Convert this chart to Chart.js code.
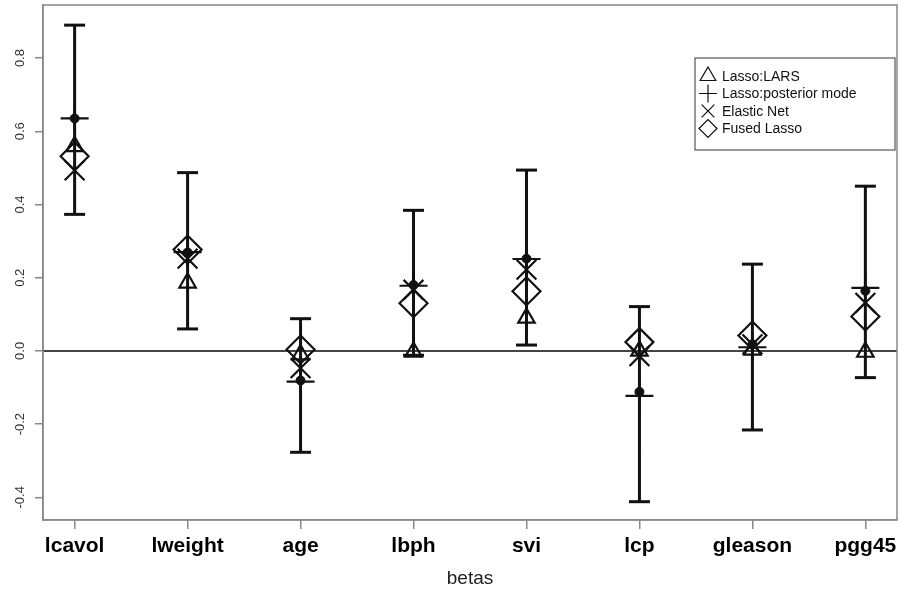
<!DOCTYPE html>
<html>
<head>
<meta charset="utf-8">
<script src="https://cdn.jsdelivr.net/npm/chart.js@4.4.1/dist/chart.umd.min.js"></script>
<style>
  body { margin: 0; background: #fff; }
</style>
</head>
<body>
<canvas id="betas-chart" width="899" height="592"></canvas>
<script>
// coefficients on the x axis
const categories = ['lcavol', 'lweight', 'age', 'lbph', 'svi', 'lcp', 'gleason', 'pgg45'];
// Bayesian lasso interval ends
const upper = [0.890, 0.487, 0.088, 0.384, 0.494, 0.121, 0.237, 0.450];
const lower = [0.373, 0.060, -0.277, -0.012, 0.016, -0.412, -0.216, -0.073];
// filled dot (posterior median)
const postMedian = [0.635, 0.269, -0.081, 0.180, 0.252, -0.112, 0.018, 0.164];
// point estimates of the other methods
const lassoLars = [0.559, 0.186, -0.010, -0.003, 0.090, 0.000, 0.003, -0.003];
const postMode = [0.635, 0.270, -0.084, 0.178, 0.251, -0.123, 0.010, 0.172];
const elasticNet = [0.493, 0.252, -0.047, 0.167, 0.222, -0.014, 0.018, 0.131];
const fusedLasso = [0.532, 0.277, 0.004, 0.130, 0.163, 0.024, 0.042, 0.094];
const yTicks = [-0.4, -0.2, 0, 0.2, 0.4, 0.6, 0.8];

const FONT = '"Liberation Sans", Arial, sans-serif';
const INK = '#111';

const toPoints = arr => arr.map((v, i) => ({ x: i + 1, y: v }));

// error bars: one dataset, broken by null points, caps drawn as 'line' points
const barData = categories.flatMap((c, i) => [
  { x: i + 1, y: lower[i] },
  { x: i + 1, y: upper[i] },
  { x: i + 1, y: null }
]);

const legendItems = [
  { text: 'Lasso:LARS', style: 'triangle' },
  { text: 'Lasso:posterior mode', style: 'cross' },
  { text: 'Elastic Net', style: 'crossRot' },
  { text: 'Fused Lasso', style: 'rectRot' }
];

// box around the plot and the zero line
const framePlugin = {
  id: 'frame',
  beforeDatasetsDraw(chart) {
    const { ctx, chartArea: a, scales } = chart;
    ctx.save();
    ctx.strokeStyle = '#444';
    ctx.lineWidth = 2;
    const y0 = scales.y.getPixelForValue(0);
    ctx.beginPath();
    ctx.moveTo(a.left, y0);
    ctx.lineTo(a.right, y0);
    ctx.stroke();
    ctx.strokeStyle = '#888';
    ctx.lineWidth = 1.5;
    ctx.strokeRect(a.left, a.top, a.right - a.left, a.bottom - a.top);
    ctx.restore();
  }
};

// R style legend box
const boxLegendPlugin = {
  id: 'boxLegend',
  afterDraw(chart) {
    const { ctx } = chart;
    const left = 695, top = 58, w = 200, h = 92;
    ctx.save();
    ctx.fillStyle = '#fff';
    ctx.fillRect(left, top, w, h);
    ctx.strokeStyle = '#555';
    ctx.lineWidth = 1.2;
    ctx.strokeRect(left, top, w, h);
    ctx.font = '14px ' + FONT;
    ctx.textBaseline = 'middle';
    legendItems.forEach((item, i) => {
      const y = top + 18 + i * 17.5;
      ctx.strokeStyle = INK;
      ctx.fillStyle = 'rgba(0,0,0,0)';
      Chart.helpers.drawPoint(ctx, { pointStyle: item.style, radius: 9, borderWidth: 1.4, rotation: 0 }, left + 13, y);
      ctx.fillStyle = INK;
      ctx.fillText(item.text, left + 27, y + 1);
    });
    ctx.restore();
  }
};

const markerSet = (label, data, style, radius, width) => ({
  label, data,
  pointStyle: style,
  pointRadius: radius,
  pointBorderWidth: width,
  pointBorderColor: INK,
  pointBackgroundColor: 'rgba(0,0,0,0)',
  showLine: false
});

const ctx = document.getElementById('betas-chart').getContext('2d');
new Chart(ctx, {
  type: 'scatter',
  data: {
    datasets: [
      {
        label: 'posterior median',
        data: toPoints(postMedian),
        pointStyle: 'circle',
        pointRadius: 4.5,
        pointBackgroundColor: INK,
        pointBorderColor: INK,
        pointBorderWidth: 1,
        showLine: false
      },
      markerSet('Lasso:LARS', toPoints(lassoLars), 'triangle', 9.5, 2.2),
      markerSet('Lasso:posterior mode', toPoints(postMode), 'cross', 14, 2.2),
      markerSet('Elastic Net', toPoints(elasticNet), 'crossRot', 14, 2.2),
      markerSet('Fused Lasso', toPoints(fusedLasso), 'rectRot', 14, 2.2),
      {
        label: 'interval',
        data: barData,
        showLine: true,
        spanGaps: false,
        borderColor: INK,
        borderWidth: 3,
        pointStyle: 'line',
        pointRadius: 10.5,
        pointBorderWidth: 3,
        pointBorderColor: INK
      }
    ]
  },
  options: {
    responsive: false,
    animation: false,
    devicePixelRatio: 1,
    layout: { autoPadding: false, padding: { top: 5, right: 2, left: 0, bottom: 0 } },
    plugins: { legend: { display: false }, tooltip: { enabled: false } },
    scales: {
      x: {
        type: 'linear',
        min: 0.72,
        max: 8.28,
        afterBuildTicks: s => { s.ticks = categories.map((c, i) => ({ value: i + 1 })); },
        afterFit: s => { s.height = 72; s.paddingLeft = 0; s.paddingRight = 0; },
        ticks: {
          callback: v => categories[v - 1],
          autoSkip: false,
          maxRotation: 0,
          padding: 5,
          color: '#000',
          font: { family: FONT, size: 21, weight: 'bold' }
        },
        grid: { drawOnChartArea: false, drawTicks: true, tickLength: 9, color: '#888', lineWidth: 1.5 },
        border: { color: '#888', width: 1.5 },
        title: {
          display: true,
          text: 'betas',
          color: '#222',
          font: { family: FONT, size: 19 },
          padding: { top: 0, bottom: 2 }
        }
      },
      y: {
        min: -0.462,
        max: 0.945,
        afterBuildTicks: s => { s.ticks = yTicks.map(v => ({ value: v })); },
        afterFit: s => { s.width = 43; s.paddingTop = 0; s.paddingBottom = 0; },
        ticks: {
          callback: v => v.toFixed(1),
          minRotation: 90,
          maxRotation: 90,
          crossAlign: 'center',
          padding: 3,
          color: '#333',
          font: { family: FONT, size: 13 }
        },
        grid: { drawOnChartArea: false, drawTicks: true, tickLength: 8, color: '#888', lineWidth: 1.5 },
        border: { color: '#888', width: 1.5 }
      }
    }
  },
  plugins: [framePlugin, boxLegendPlugin]
});
</script>
</body>
</html>
